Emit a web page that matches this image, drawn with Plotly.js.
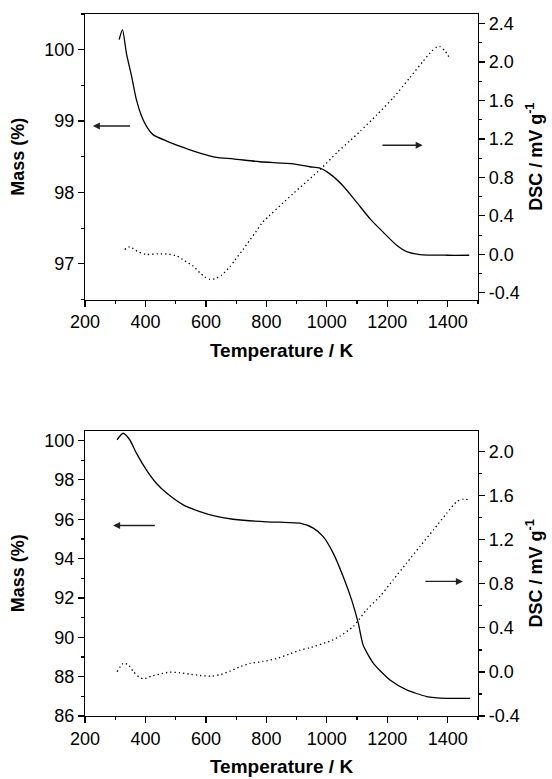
<!DOCTYPE html>
<html>
<head>
<meta charset="utf-8">
<script src="https://cdn.plot.ly/plotly-3.0.1.min.js"></script>
<style>html,body{margin:0;padding:0;background:#fff;}#chart{width:552px;height:779px;}</style>
</head>
<body>
<div id="chart"></div>
<script>
// ---- Top panel: mass (TG) curve ----
var topMassT = [313, 324, 337, 354, 370, 387, 403, 425, 470, 525, 580, 635, 690, 778, 889, 944, 977, 1010, 1054, 1099, 1143, 1187, 1231, 1264, 1308, 1400, 1471];
var topMass  = [100.14, 100.28, 99.95, 99.63, 99.30, 99.07, 98.93, 98.81, 98.72, 98.63, 98.55, 98.49, 98.47, 98.43, 98.40, 98.36, 98.34, 98.26, 98.09, 97.86, 97.63, 97.44, 97.26, 97.17, 97.13, 97.12, 97.12];
// ---- Top panel: DSC curve ----
var topDscT = [331, 348, 376, 403, 442, 475, 503, 530, 558, 580, 596, 613, 629, 652, 679, 696, 723, 745, 765, 784, 889, 977, 1034, 1076, 1110, 1165, 1220, 1275, 1319, 1347, 1364, 1374, 1391, 1405];
var topDsc  = [0.051, 0.078, 0.026, -0.001, 0.005, 0.002, -0.016, -0.068, -0.123, -0.193, -0.234, -0.261, -0.255, -0.216, -0.130, -0.061, 0.051, 0.147, 0.234, 0.321, 0.633, 0.880, 1.060, 1.180, 1.280, 1.450, 1.630, 1.840, 2.011, 2.115, 2.157, 2.161, 2.115, 2.047];
// ---- Bottom panel: mass (TG) curve ----
var botMassT = [306, 326, 348, 370, 403, 436, 470, 525, 580, 635, 690, 800, 845, 911, 955, 988, 1021, 1054, 1082, 1104, 1120, 1154, 1209, 1264, 1330, 1397, 1474];
var botMass  = [100.04, 100.37, 100.04, 99.36, 98.51, 97.83, 97.33, 96.73, 96.39, 96.14, 96.00, 95.87, 95.85, 95.80, 95.55, 95.12, 94.28, 93.09, 91.90, 90.72, 89.61, 88.68, 87.83, 87.33, 86.99, 86.90, 86.90];
// ---- Bottom panel: DSC curve ----
var botDscT = [306, 326, 342, 359, 379, 394, 420, 447, 480, 514, 547, 580, 619, 646, 679, 712, 745, 789, 834, 875, 911, 942, 1010, 1043, 1088, 1132, 1176, 1220, 1264, 1308, 1353, 1397, 1430, 1452, 1468];
var botDsc  = [0.002, 0.077, 0.068, 0.007, -0.047, -0.062, -0.038, -0.020, -0.002, -0.008, -0.020, -0.032, -0.038, -0.025, 0.007, 0.047, 0.077, 0.095, 0.122, 0.161, 0.198, 0.219, 0.279, 0.324, 0.415, 0.566, 0.687, 0.838, 0.989, 1.140, 1.291, 1.442, 1.547, 1.569, 1.563];

// ---- Tick labels ----
var xTickVals = [200, 400, 600, 800, 1000, 1200, 1400];
var xTickText = ['200', '400', '600', '800', '1000', '1200', '1400'];
var topMassTickVals = [97, 98, 99, 100];
var topDscTickVals = [-0.4, 0, 0.4, 0.8, 1.2, 1.6, 2.0, 2.4];
var topDscTickText = ['-0.4', '0.0', '0.4', '0.8', '1.2', '1.6', '2.0', '2.4'];
var botMassTickVals = [86, 88, 90, 92, 94, 96, 98, 100];
var botDscTickVals = [-0.4, 0, 0.4, 0.8, 1.2, 1.6, 2.0];
var botDscTickText = ['-0.4', '0.0', '0.4', '0.8', '1.2', '1.6', '2.0'];

var xTitle = 'Temperature / K';
var massTitle = 'Mass (%)';
var dscTitle = 'DSC / mV g<sup>-1</sup>';

var FONT = 'Liberation Sans, Arial, sans-serif';
var FONTB = 'Liberation Sans, Arial, sans-serif';

var solid = {color: '#000', width: 1.3, shape: 'spline', smoothing: 0.6};
var dotted = {color: '#000', width: 1.3, dash: '1.3px,3px', shape: 'spline', smoothing: 0.6};

var traces = [
  {x: topMassT, y: topMass, xaxis: 'x', yaxis: 'y', mode: 'lines', line: solid},
  {x: topDscT, y: topDsc, xaxis: 'x', yaxis: 'y2', mode: 'lines', line: dotted},
  {x: botMassT, y: botMass, xaxis: 'x2', yaxis: 'y3', mode: 'lines', line: solid},
  {x: botDscT, y: botDsc, xaxis: 'x2', yaxis: 'y4', mode: 'lines', line: dotted}
];

function xAxis(anchor) {
  return {
    anchor: anchor, domain: [0, 1], range: [200, 1500],
    showline: true, linecolor: '#000', linewidth: 1.2, mirror: true,
    showgrid: false, zeroline: false,
    ticks: 'outside', ticklen: 6, tickwidth: 1.2, tickcolor: '#000',
    tickvals: xTickVals, ticktext: xTickText,
    minor: {dtick: 100, tick0: 200, ticks: 'outside', ticklen: 3, tickwidth: 1.2, tickcolor: '#000', showgrid: false},
    tickfont: {family: FONT, size: 18, color: '#000'},
    title: {text: '<b>' + xTitle + '</b>', font: {family: FONTB, size: 19, color: '#000'}, standoff: 12}
  };
}
function yLeft(anchor, domain, range, vals, minorD) {
  return {
    anchor: anchor, domain: domain, range: range, side: 'left',
    showline: true, linecolor: '#000', linewidth: 1.2,
    showgrid: false, zeroline: false,
    ticks: 'outside', ticklen: 6, tickwidth: 1.2, tickcolor: '#000',
    tickvals: vals,
    minor: {dtick: minorD, tick0: range[0] < 90 ? 86 : 96.5, ticks: 'outside', ticklen: 3, tickwidth: 1.2, tickcolor: '#000', showgrid: false},
    tickfont: {family: FONT, size: 18, color: '#000'},
    title: {text: '<b>' + massTitle + '</b>', font: {family: FONTB, size: 18, color: '#000'}, standoff: 14}
  };
}
function yRight(anchor, overlay, range, vals, texts) {
  return {
    anchor: anchor, overlaying: overlay, range: range, side: 'right',
    showline: true, linecolor: '#000', linewidth: 1.2,
    showgrid: false, zeroline: false,
    ticks: 'outside', ticklen: 6, tickwidth: 1.2, tickcolor: '#000',
    tickvals: vals, ticktext: texts,
    minor: {dtick: 0.2, tick0: 0, ticks: 'outside', ticklen: 3, tickwidth: 1.2, tickcolor: '#000', showgrid: false},
    tickfont: {family: FONT, size: 18, color: '#000'},
    title: {text: '<b>' + dscTitle + '</b>', font: {family: FONTB, size: 18, color: '#000'}, standoff: 10}
  };
}

var arrowStyle = {text: '', showarrow: true, arrowhead: 2, arrowsize: 1, arrowwidth: 1.4, arrowcolor: '#222', standoff: 0, startstandoff: 0};
function arrow(xref, yref, x, y, ax, ay) {
  return Object.assign({}, arrowStyle, {xref: xref, yref: yref, axref: xref, ayref: yref, x: x, y: y, ax: ax, ay: ay});
}

var layout = {
  width: 552, height: 779,
  margin: {l: 85, r: 74, t: 14, b: 63},
  paper_bgcolor: '#fff', plot_bgcolor: '#fff',
  showlegend: false,
  xaxis: xAxis('y'),
  xaxis2: xAxis('y3'),
  yaxis: yLeft('x', [0.5933, 1], [96.5, 100.5], topMassTickVals, 0.5),
  yaxis2: yRight('x', 'y', [-0.47, 2.5], topDscTickVals, topDscTickText),
  yaxis3: yLeft('x2', [0, 0.4064], [86, 100.5], botMassTickVals, 1),
  yaxis4: yRight('x2', 'y3', [-0.4, 2.19], botDscTickVals, botDscTickText),
  annotations: [
    arrow('x', 'y', 226, 98.93, 354, 98.93),
    arrow('x', 'y2', 1317, 1.135, 1179, 1.135),
    arrow('x2', 'y3', 293, 95.68, 436, 95.68),
    arrow('x2', 'y4', 1450, 0.822, 1321, 0.822)
  ]
};

Plotly.newPlot('chart', traces, layout, {staticPlot: true, displayModeBar: false});
</script>
</body>
</html>
